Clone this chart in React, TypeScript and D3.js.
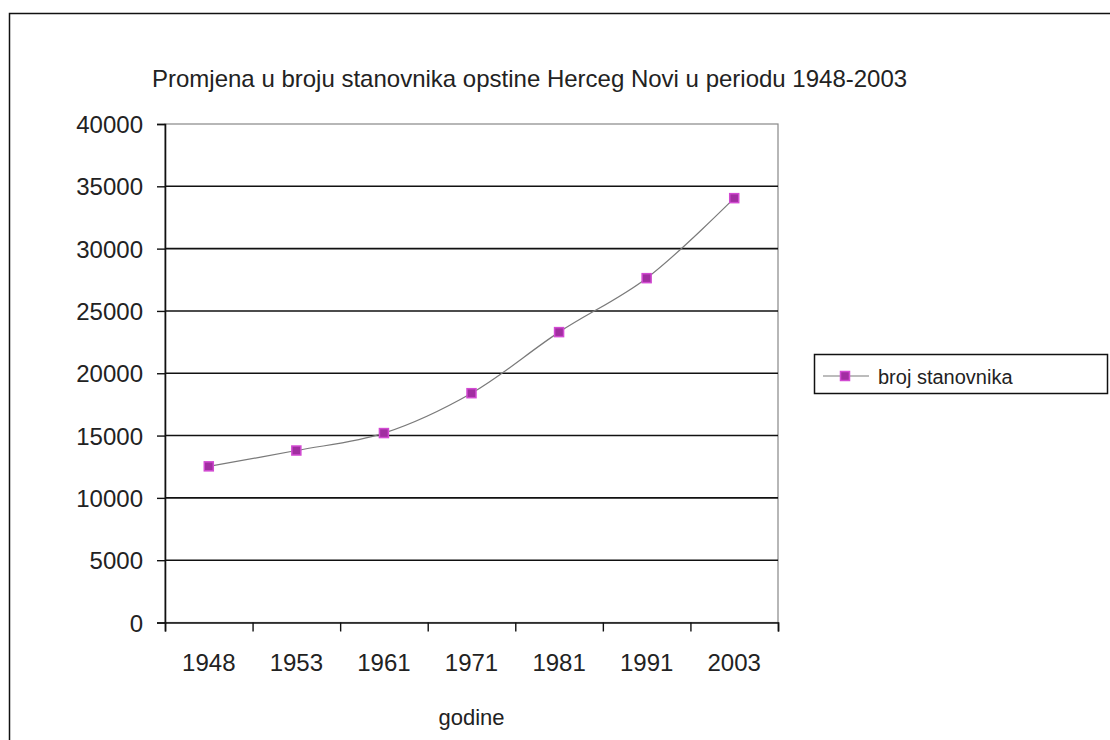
import { useEffect, useRef } from 'react'
import * as d3 from 'd3'

const years = ['1948', '1953', '1961', '1971', '1981', '1991', '2003']
const population = [12530, 13800, 15200, 18400, 23300, 27630, 34050]
const yTicks = [0, 5000, 10000, 15000, 20000, 25000, 30000, 35000, 40000]
const title = 'Promjena u broju stanovnika opstine Herceg Novi u periodu 1948-2003'
const xTitle = 'godine'
const seriesName = 'broj stanovnika'

const FONT = 'Arial, "Liberation Sans", sans-serif'

export default function App() {
  const svgRef = useRef<SVGSVGElement>(null)

  useEffect(() => {
    if (!svgRef.current) return
    const W = 1110
    const H = 740
    const plot = { left: 165, right: 778, top: 124, bottom: 622.5 }

    const svg = d3.select(svgRef.current)
    svg.selectAll('*').remove()
    svg.attr('viewBox', `0 0 ${W} ${H}`)

    // chart area frame (runs off the picture on the right and bottom)
    svg.append('rect')
      .attr('x', 9.5).attr('y', 13.5)
      .attr('width', 1300).attr('height', 1000)
      .attr('fill', '#fff')
      .attr('stroke', '#111').attr('stroke-width', 1.5)

    const x = d3.scaleBand<string>().domain(years).range([plot.left, plot.right])
    const xEdge = d3.scaleLinear().domain([0, years.length]).range([plot.left, plot.right])
    const y = d3.scaleLinear().domain([0, 40000]).range([plot.bottom, plot.top])

    // title
    svg.append('text')
      .attr('x', 152).attr('y', 87)
      .attr('font-family', FONT).attr('font-size', 24)
      .attr('fill', '#222')
      .text(title)

    // plot border (grey)
    svg.append('rect')
      .attr('x', plot.left).attr('y', plot.top)
      .attr('width', plot.right - plot.left).attr('height', plot.bottom - plot.top)
      .attr('fill', 'none')
      .attr('stroke', '#888').attr('stroke-width', 1.2)

    // gridlines
    svg.append('g')
      .selectAll('line')
      .data(yTicks.filter(d => d > 0 && d < 40000))
      .join('line')
      .attr('x1', plot.left).attr('x2', plot.right)
      .attr('y1', d => y(d)).attr('y2', d => y(d))
      .attr('stroke', '#111').attr('stroke-width', 1.6)

    // y axis
    const yAxis = svg.append('g')
      .attr('transform', `translate(${plot.left},0)`)
      .call(d3.axisLeft(y).tickValues(yTicks).tickSize(8).tickPadding(14).tickFormat(d => String(d)))
    yAxis.select('.domain').attr('stroke', '#111').attr('stroke-width', 1.6)
    yAxis.selectAll('line').attr('stroke', '#111').attr('stroke-width', 1.4)
    yAxis.selectAll('text')
      .attr('font-family', FONT).attr('font-size', 24).attr('fill', '#222')
      .attr('dy', '0.36em')

    // x axis: tick marks between categories
    const xAxis = svg.append('g')
      .attr('transform', `translate(0,${plot.bottom})`)
      .call(d3.axisBottom(xEdge).tickValues(d3.range(years.length + 1)).tickSize(9).tickFormat(() => ''))
    xAxis.select('.domain').attr('stroke', '#111').attr('stroke-width', 1.6)
    xAxis.selectAll('line').attr('stroke', '#111').attr('stroke-width', 1.4)

    const xLabels = svg.append('g')
      .attr('transform', `translate(0,${plot.bottom})`)
      .call(d3.axisBottom(x).tickSize(0).tickPadding(31))
    xLabels.select('.domain').remove()
    xLabels.selectAll('text')
      .attr('font-family', FONT).attr('font-size', 24).attr('fill', '#222')

    svg.append('text')
      .attr('x', (plot.left + plot.right) / 2).attr('y', 725)
      .attr('text-anchor', 'middle')
      .attr('font-family', FONT).attr('font-size', 22).attr('fill', '#222')
      .text(xTitle)

    // series line
    const cx = (d: string) => (x(d) ?? 0) + x.bandwidth() / 2
    const line = d3.line<number>()
      .x((_, i) => cx(years[i]))
      .y(d => y(d))
      .curve(d3.curveCatmullRom)

    svg.append('path')
      .datum(population)
      .attr('d', line)
      .attr('fill', 'none')
      .attr('stroke', '#7a7a7a').attr('stroke-width', 1.2)

    const m = 9
    svg.append('g')
      .selectAll('rect')
      .data(population)
      .join('rect')
      .attr('x', (_, i) => cx(years[i]) - m / 2)
      .attr('y', d => y(d) - m / 2)
      .attr('width', m).attr('height', m)
      .attr('fill', '#a12ea1')
      .attr('stroke', '#d24ad2').attr('stroke-width', 1.5)

    // legend
    const lg = svg.append('g')
    lg.append('rect')
      .attr('x', 814.5).attr('y', 354.5)
      .attr('width', 293).attr('height', 39)
      .attr('fill', '#fff')
      .attr('stroke', '#111').attr('stroke-width', 1.5)
    lg.append('line')
      .attr('x1', 823).attr('x2', 869)
      .attr('y1', 376).attr('y2', 376)
      .attr('stroke', '#7a7a7a').attr('stroke-width', 1.2)
    lg.append('rect')
      .attr('x', 845 - m / 2).attr('y', 376 - m / 2)
      .attr('width', m).attr('height', m)
      .attr('fill', '#a12ea1')
      .attr('stroke', '#d24ad2').attr('stroke-width', 1.5)
    lg.append('text')
      .attr('x', 878).attr('y', 384)
      .attr('font-family', FONT).attr('font-size', 20).attr('fill', '#222')
      .text(seriesName)
  }, [])

  return (
    <svg
      ref={svgRef}
      width={1110}
      height={740}
      style={{ position: 'absolute', left: 0, top: 0, display: 'block', background: '#fff' }}
    />
  )
}
